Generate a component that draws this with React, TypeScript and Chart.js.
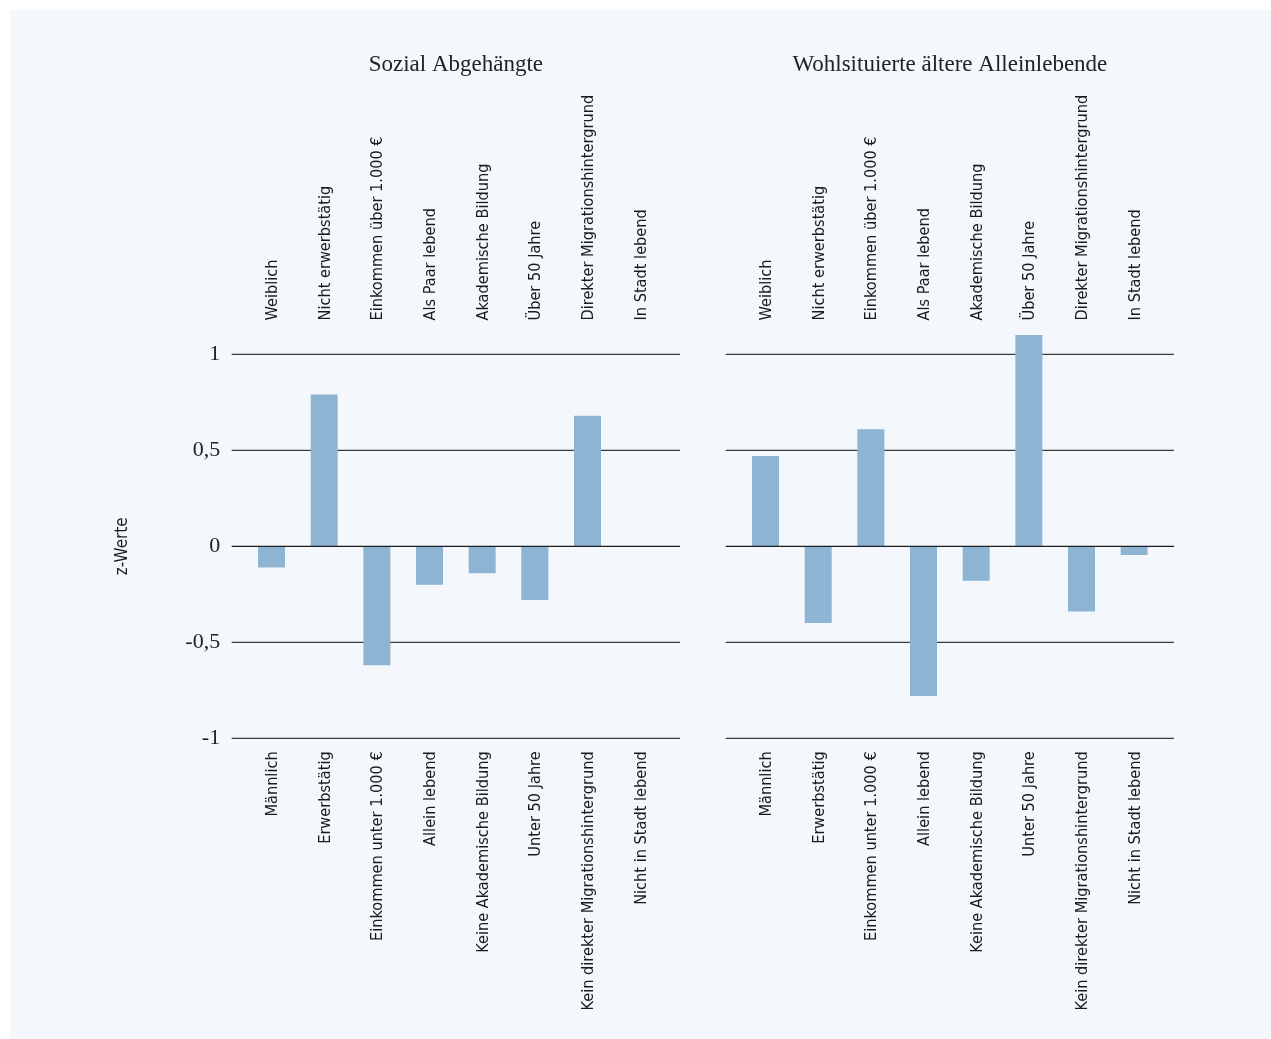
import React, { useEffect, useRef } from "react";
import { Chart, registerables } from "chart.js";

Chart.register(...registerables);

// ---- Data ----
const leftTitle = "Sozial Abgehängte";
const rightTitle = "Wohlsituierte ältere Alleinlebende";

const leftTopLabels = [
  "Weiblich",
  "Nicht erwerbstätig",
  "Einkommen über 1.000 €",
  "Als Paar lebend",
  "Akademische Bildung",
  "Über 50 Jahre",
  "Direkter Migrationshintergrund",
  "In Stadt lebend",
];
const leftBottomLabels = [
  "Männlich",
  "Erwerbstätig",
  "Einkommen unter 1.000 €",
  "Allein lebend",
  "Keine Akademische Bildung",
  "Unter 50 Jahre",
  "Kein direkter Migrationshintergrund",
  "Nicht in Stadt lebend",
];
const rightTopLabels = [
  "Weiblich",
  "Nicht erwerbstätig",
  "Einkommen über 1.000 €",
  "Als Paar lebend",
  "Akademische Bildung",
  "Über 50 Jahre",
  "Direkter Migrationshintergrund",
  "In Stadt lebend",
];
const rightBottomLabels = [
  "Männlich",
  "Erwerbstätig",
  "Einkommen unter 1.000 €",
  "Allein lebend",
  "Keine Akademische Bildung",
  "Unter 50 Jahre",
  "Kein direkter Migrationshintergrund",
  "Nicht in Stadt lebend",
];

const leftValues = [-0.11, 0.79, -0.62, -0.2, -0.14, -0.28, 0.68, 0];
const rightValues = [0.47, -0.4, 0.61, -0.78, -0.18, 1.1, -0.34, -0.045];

const yTicks = [-1, -0.5, 0, 0.5, 1];
const yAxisTitle = "z-Werte";

// ---- Styles ----
const BAR_COLOR = "#8eb4d4";
const LABEL_FONT = "'DejaVu Sans Condensed', 'Liberation Sans Narrow', 'Noto Sans', sans-serif";
const LABEL_SIZE = 16.2;
const SERIF_FONT = "'Liberation Serif', 'DejaVu Serif', serif";
const EXT = 13.5;

function makePlugin(title: string, showYTitle: boolean) {
  return {
    id: "panelDecor",
    beforeDatasetsDraw(chart: any) {
      const { ctx, chartArea, scales } = chart;
      const y = scales.y;
      ctx.save();
      ctx.strokeStyle = "#3a3a3a";
      ctx.lineWidth = 1.2;
      for (const v of yTicks) {
        if (v === 0) continue;
        const py = y.getPixelForValue(v);
        ctx.beginPath();
        ctx.moveTo(chartArea.left - EXT, py);
        ctx.lineTo(chartArea.right + EXT, py);
        ctx.stroke();
      }
      ctx.restore();
    },
    afterDatasetsDraw(chart: any) {
      const { ctx, chartArea, scales } = chart;
      const y = scales.y;
      ctx.save();
      ctx.strokeStyle = "#1e1e1e";
      ctx.lineWidth = 1.3;
      const p0 = y.getPixelForValue(0);
      ctx.beginPath();
      ctx.moveTo(chartArea.left - EXT, p0);
      ctx.lineTo(chartArea.right + EXT, p0);
      ctx.stroke();

      ctx.fillStyle = "#222";
      ctx.font = `23px ${SERIF_FONT}`;
      ctx.textAlign = "center";
      ctx.textBaseline = "alphabetic";
      ctx.fillText(title, (chartArea.left + chartArea.right) / 2, 71);

      if (showYTitle) {
        ctx.fillStyle = "#1a1a1a";
        ctx.font = `17px ${LABEL_FONT}`;
        ctx.translate(127, p0);
        ctx.rotate(-Math.PI / 2);
        ctx.textAlign = "center";
        ctx.textBaseline = "alphabetic";
        ctx.fillText(yAxisTitle, 0, 0);
      }
      ctx.restore();
    },
  };
}

function buildConfig(
  topLabels: string[],
  bottomLabels: string[],
  values: number[],
  title: string,
  isLeft: boolean,
  padding: { left: number; right: number }
): any {
  return {
    type: "bar",
    data: {
      labels: bottomLabels,
      datasets: [
        {
          data: values,
          backgroundColor: BAR_COLOR,
          borderWidth: 0,
          barPercentage: 0.513,
          categoryPercentage: 1,
          xAxisID: "x",
          yAxisID: "y",
        },
      ],
    },
    options: {
      responsive: false,
      animation: false,
      devicePixelRatio: 1,
      layout: { padding: { left: padding.left, right: padding.right, top: 0, bottom: 0 } },
      plugins: { legend: { display: false }, tooltip: { enabled: false }, title: { display: false } },
      scales: {
        x: {
          type: "category",
          position: "bottom",
          grid: { display: false, drawTicks: false },
          border: { display: false },
          ticks: {
            autoSkip: false,
            minRotation: 90,
            maxRotation: 90,
            padding: 13,
            labelOffset: 1.2,
            color: "#1a1a1a",
            font: { family: LABEL_FONT, size: LABEL_SIZE },
          },
          afterFit(scale: any) {
            scale.height = 300.7;
          },
        },
        x2: {
          type: "category",
          position: "top",
          labels: topLabels,
          grid: { display: false, drawTicks: false },
          border: { display: false },
          ticks: {
            autoSkip: false,
            minRotation: 90,
            maxRotation: 90,
            padding: 5,
            labelOffset: LABEL_SIZE * 1.2 + 1.2,
            color: "#1a1a1a",
            font: { family: LABEL_FONT, size: LABEL_SIZE },
          },
          afterFit(scale: any) {
            scale.height = 325.5;
          },
        },
        y: {
          type: "linear",
          display: isLeft,
          min: -1,
          max: 1.15,
          grid: { display: false, drawTicks: false },
          border: { display: false },
          afterBuildTicks(scale: any) {
            scale.ticks = yTicks.map((v) => ({ value: v }));
          },
          ticks: {
            padding: 25,
            color: "#222",
            font: { family: SERIF_FONT, size: 22 },
            callback: (v: any) => String(v).replace(".", ","),
          },
          afterFit(scale: any) {
            scale.width = isLeft ? 245.2 : 0;
          },
        },
      },
    },
    plugins: [makePlugin(title, isLeft)],
  };
}

export default function App() {
  const leftRef = useRef<HTMLCanvasElement | null>(null);
  const rightRef = useRef<HTMLCanvasElement | null>(null);

  useEffect(() => {
    const charts: Chart[] = [];
    if (leftRef.current) {
      charts.push(
        new Chart(
          leftRef.current,
          buildConfig(leftTopLabels, leftBottomLabels, leftValues, leftTitle, true, { left: 0, right: 33.5 })
        )
      );
    }
    if (rightRef.current) {
      charts.push(
        new Chart(
          rightRef.current,
          buildConfig(rightTopLabels, rightBottomLabels, rightValues, rightTitle, false, { left: 39.2, right: 110.5 })
        )
      );
    }
    return () => charts.forEach((c) => c.destroy());
  }, []);

  return (
    <div style={{ position: "absolute", left: 0, top: 0, width: 1271, height: 1039, background: "#ffffff", overflow: "hidden" }}>
      <div style={{ position: "absolute", left: 10, top: 10, width: 1261, height: 1029, background: "#f4f8fd" }} />
      <canvas
        ref={leftRef}
        width={700}
        height={1039}
        style={{ position: "absolute", left: 0, top: 0, width: 700, height: 1039 }}
      />
      <canvas
        ref={rightRef}
        width={571}
        height={1039}
        style={{ position: "absolute", left: 700, top: 0, width: 571, height: 1039 }}
      />
    </div>
  );
}
